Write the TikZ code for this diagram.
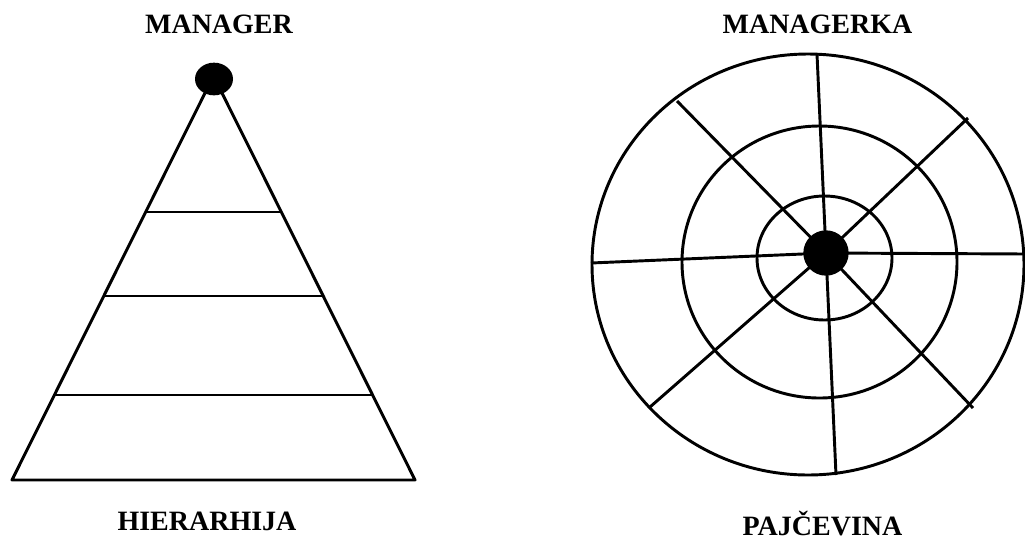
\documentclass[tikz,border=0pt]{standalone}
\usepackage{fontspec}
\setmainfont{Liberation Serif}
\usetikzlibrary{positioning,shapes.geometric}

\begin{document}
\begin{tikzpicture}[
  x=0.75pt, y=-0.75pt,
  line/.style={line width=2.2pt, line join=round},
  dot/.style={fill=black, inner sep=0pt},
  lbl/.style={font=\fontsize{21}{25}\selectfont\bfseries, anchor=base, inner sep=0pt}
]
  \useasboundingbox (0,0) rectangle (1025,540);

  % Hierarchy (pyramid)
  \node[lbl] (manager) at (219,33) {MANAGER};
  \node[lbl] (hier) at (207,530) {HIERARHIJA};
  \draw[line] (205,93) -- (12,480) -- (415,480) -- (222,93);
  \draw[line] (146,212) -- (281,212);
  \draw[line] (104,296) -- (323,296);
  \draw[line] (54,395) -- (374,395);
  \node[dot, ellipse, minimum width=28.5pt, minimum height=24.5pt] (top) at (214,79) {};

  % Web
  \node[lbl] (managerka) at (817.5,33) {MANAGERKA};
  \node[lbl] (web) at (822.5,535) {PAJČEVINA};
  \draw[line] (808,264.5) ellipse [x radius=216, y radius=210.5];
  \draw[line] (819.5,262) ellipse [x radius=137.5, y radius=136];
  \draw[line] (824.5,258) ellipse [x radius=67.5, y radius=62];
  \coordinate (hub) at (826,253);
  \foreach \p in {(817,54),(968,118),(1025,254),(973,408),(836,475),(650,407),(591,263),(677,101)}
    \draw[line] (hub) -- \p;
  \node[dot, circle, minimum size=34pt] (center) at (hub) {};
\end{tikzpicture}
\end{document}
